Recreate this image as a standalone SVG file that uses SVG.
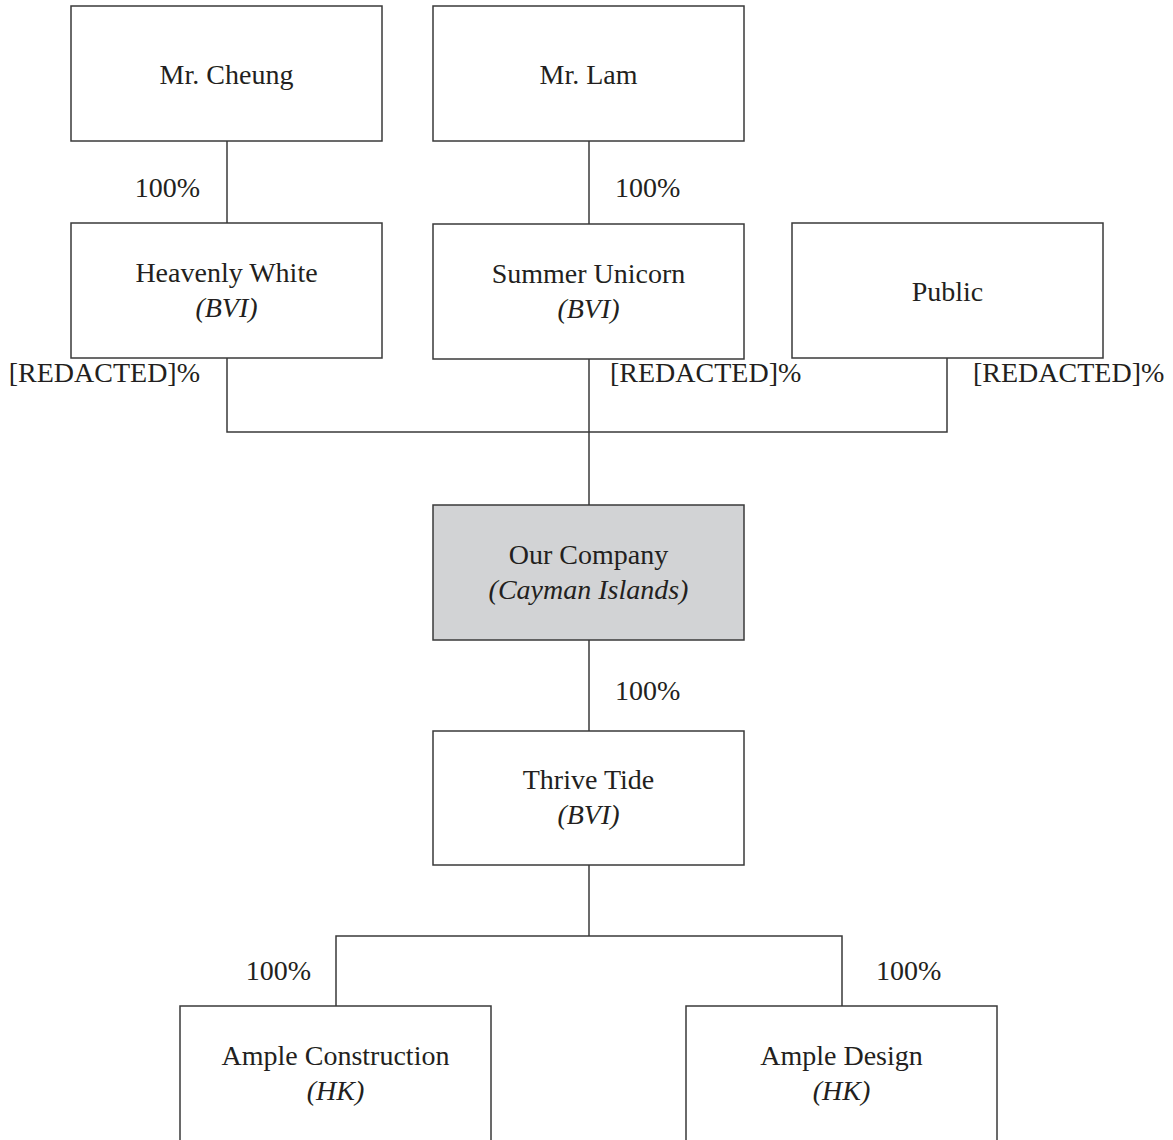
<svg xmlns="http://www.w3.org/2000/svg" width="1173" height="1140" viewBox="0 0 1173 1140">
<style>
.box{fill:#ffffff;stroke:#3a3a3a;stroke-width:1.5}
.gray{fill:#d2d3d5}
.t{font-family:"Liberation Serif","Times New Roman",serif;font-size:28px;fill:#231f20;text-anchor:middle}
.i{font-style:italic}
.l{font-family:"Liberation Serif","Times New Roman",serif;font-size:28px;fill:#231f20}
.e{text-anchor:end}
.c{fill:none;stroke:#3a3a3a;stroke-width:1.5}
</style>
<rect width="1173" height="1140" fill="#ffffff"/>
<g id="connectors">
<path class="c" d="M227 141V223"/>
<path class="c" d="M589 141V224"/>
<path class="c" d="M227 358V432H947V358"/>
<path class="c" d="M589 359V505"/>
<path class="c" d="M589 640V731"/>
<path class="c" d="M589 865V936"/>
<path class="c" d="M336 1006V936H842V1006"/>
</g>
<g id="labels">
<text class="l e" x="200" y="197">100%</text>
<text class="l" x="615" y="197">100%</text>
<text class="l e" x="200" y="382">[REDACTED]%</text>
<text class="l" x="610" y="382">[REDACTED]%</text>
<text class="l" x="973" y="382">[REDACTED]%</text>
<text class="l" x="615" y="700">100%</text>
<text class="l e" x="311" y="980">100%</text>
<text class="l" x="876" y="980">100%</text>
</g>
<g id="mr-cheung">
<rect class="box" x="71" y="6" width="311" height="135"/>
<text class="t" x="226.5" y="84">Mr. Cheung</text>
</g>
<g id="mr-lam">
<rect class="box" x="433" y="6" width="311" height="135"/>
<text class="t" x="588.5" y="84">Mr. Lam</text>
</g>
<g id="heavenly-white">
<rect class="box" x="71" y="223" width="311" height="135"/>
<text class="t" x="226.5" y="282">Heavenly White</text>
<text class="t i" x="226.5" y="317">(BVI)</text>
</g>
<g id="summer-unicorn">
<rect class="box" x="433" y="224" width="311" height="135"/>
<text class="t" x="588.5" y="283">Summer Unicorn</text>
<text class="t i" x="588.5" y="318">(BVI)</text>
</g>
<g id="public">
<rect class="box" x="792" y="223" width="311" height="135"/>
<text class="t" x="947.5" y="301">Public</text>
</g>
<g id="our-company">
<rect class="box gray" x="433" y="505" width="311" height="135"/>
<text class="t" x="588.5" y="564">Our Company</text>
<text class="t i" x="588.5" y="599">(Cayman Islands)</text>
</g>
<g id="thrive-tide">
<rect class="box" x="433" y="731" width="311" height="134"/>
<text class="t" x="588.5" y="789">Thrive Tide</text>
<text class="t i" x="588.5" y="824">(BVI)</text>
</g>
<g id="ample-construction">
<rect class="box" x="180" y="1006" width="311" height="150"/>
<text class="t" x="335.5" y="1065">Ample Construction</text>
<text class="t i" x="335.5" y="1100">(HK)</text>
</g>
<g id="ample-design">
<rect class="box" x="686" y="1006" width="311" height="150"/>
<text class="t" x="841.5" y="1065">Ample Design</text>
<text class="t i" x="841.5" y="1100">(HK)</text>
</g>
</svg>
